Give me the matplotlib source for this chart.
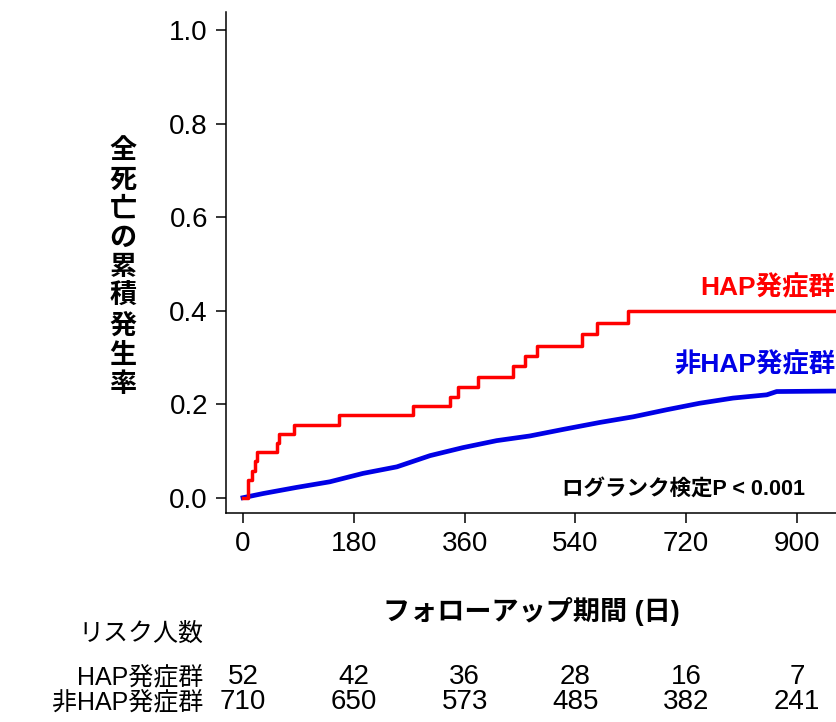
import matplotlib
matplotlib.use("Agg")
import matplotlib.pyplot as plt
from matplotlib import font_manager

# cumulative incidence of all-cause death, step times in days
hap_days = [0, 8, 15, 19, 22, 56, 59, 83, 156, 277, 337, 350, 382, 438, 458, 477, 551, 575, 626, 965]
hap_rate = [0.0, 0.038, 0.058, 0.078, 0.098, 0.117, 0.137, 0.156, 0.176, 0.196, 0.216, 0.237,
            0.259, 0.282, 0.304, 0.325, 0.349, 0.374, 0.400, 0.400]

non_days = [0, 33, 87, 141, 195, 250, 304, 357, 412, 466, 520, 580, 634, 688, 742, 796, 851, 867, 958, 965]
non_rate = [0.0, 0.009, 0.022, 0.034, 0.052, 0.066, 0.090, 0.107, 0.122, 0.132, 0.146, 0.161,
            0.173, 0.188, 0.202, 0.213, 0.220, 0.227, 0.228, 0.228]

xticks = [0, 180, 360, 540, 720, 900]
yticks = [0.0, 0.2, 0.4, 0.6, 0.8, 1.0]
risk_hap = [52, 42, 36, 28, 16, 7]
risk_non = [710, 650, 573, 485, 382, 241]

names = {f.name for f in font_manager.fontManager.ttflist}
latin = "Liberation Sans" if "Liberation Sans" in names else "DejaVu Sans"
fam = [latin, "Noto Sans CJK JP", "DejaVu Sans"]
plt.rcParams["font.family"] = fam

W, H = 837, 722
fig = plt.figure(figsize=(W / 100, H / 100), dpi=100)
ax = fig.add_axes([226 / W, (H - 513) / H, (W - 226) / W, (513 - 12) / H])

# the large group has many tiny steps, so it reads as a continuous line
ax.plot(non_days, non_rate, color="#0000e6", lw=3.4, solid_joinstyle="round")
ax.step(hap_days, hap_rate, where="post", color="#ff0000", lw=2.5)

ax.set_xlim(-27.6, 965)
ax.set_ylim(-0.0327, 1.0385)
ax.spines["top"].set_visible(False)
ax.spines["right"].set_visible(False)
for s in ("left", "bottom"):
    ax.spines[s].set_linewidth(1.1)
ax.set_xticks(xticks)
ax.set_yticks(yticks)
ax.set_yticklabels([f"{v:.1f}" for v in yticks])
ax.tick_params(length=7, width=1.1, labelsize=20, pad=6)

ax.text(962, 0.45, "HAP発症群", color="#ff0000", fontsize=19, fontweight="bold",
        ha="right", va="center")
ax.text(962, 0.284, "非HAP発症群", color="#0000e6", fontsize=19, fontweight="bold",
        ha="right", va="center")


def ftext(x, y, s, **kw):
    fig.text(x / W, 1 - y / H, s, **kw)


ftext(684, 489, "ログランク検定P < 0.001", fontsize=15.5, fontweight="bold",
      ha="center", va="center")

# stacked vertical y-axis title
ftext(123, 268, "\n".join("全死亡の累積発生率"), fontsize=19.5, fontweight="bold",
      ha="center", va="center", linespacing=1.16)

ftext(531, 612, "フォローアップ期間 (日)", fontsize=19.5, fontweight="bold",
      ha="center", va="center")

# numbers at risk
ftext(203, 634, "リスク人数", fontsize=18, ha="right", va="center")
ftext(203, 677, "HAP発症群", fontsize=18, ha="right", va="center")
ftext(203, 702, "非HAP発症群", fontsize=18, ha="right", va="center")
for d, a, b in zip(xticks, risk_hap, risk_non):
    px = 243 + d * 0.6156
    ftext(px, 677, str(a), fontsize=20, ha="center", va="center")
    ftext(px, 702, str(b), fontsize=20, ha="center", va="center")

fig.savefig("out.png", dpi=100)
